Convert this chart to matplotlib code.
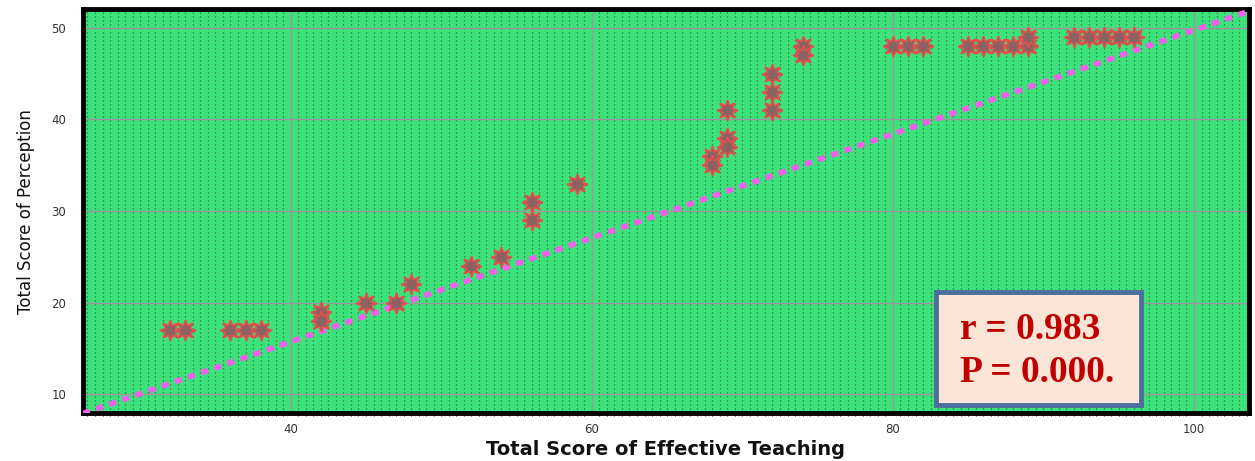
import numpy as np
import matplotlib.pyplot as plt
from matplotlib.patches import Rectangle
from matplotlib.ticker import MultipleLocator

# Total score of effective teaching vs total score of perception
teaching = [32, 33, 36, 37, 38, 42, 42, 45, 47, 48, 52, 54, 56, 56, 59,
            68, 68, 69, 69, 69, 72, 72, 72, 74, 74, 80, 81, 82,
            85, 86, 87, 88, 89, 89, 92, 93, 94, 95, 96]
perception = [17, 17, 17, 17, 17, 19, 18, 20, 20, 22, 24, 25, 31, 29, 33,
              36, 35, 38, 37, 41, 45, 43, 41, 48, 47, 48, 48, 48,
              48, 48, 48, 48, 48, 49, 49, 49, 49, 49, 49]

# fitted line
fit_intercept = -6.95
fit_slope = 0.567
stats_text = ["r = 0.983", "P = 0.000."]

fig = plt.figure(figsize=(12.55, 4.61), dpi=100)
ax = fig.add_axes([0.0661, 0.1041, 0.9291, 0.8753])
ax.set_facecolor("#3ee27a")

ax.set_xlim(26.2, 103.65)
ax.set_ylim(7.96, 52.0)
ax.xaxis.set_major_locator(MultipleLocator(20))
ax.yaxis.set_major_locator(MultipleLocator(10))
ax.xaxis.set_minor_locator(MultipleLocator(0.5))

ax.grid(which="major", color="#9a9a9a", linewidth=1.0, zorder=1)
ax.grid(which="minor", axis="x", color="#1f7a44", linewidth=0.9,
        linestyle=(0, (1.0, 2.2)), zorder=1)
ax.set_axisbelow(True)

xs = np.array(ax.get_xlim())
ax.plot(xs, fit_intercept + fit_slope * xs, color="#f55ff0", linewidth=4.0,
        linestyle=(0, (1.3, 1.2)), dash_capstyle="butt", zorder=3)

ax.plot(teaching, perception, linestyle="none", marker=(8, 1, 0),
        markersize=15, markerfacecolor="#8a6262", markeredgecolor="#e5504c",
        markeredgewidth=1.2, zorder=4)

for s in ax.spines.values():
    s.set_linewidth(3.5)
    s.set_color("black")

ax.tick_params(length=0, labelsize=8.5, labelcolor="#333333")
ax.tick_params(axis="x", pad=7)
ax.tick_params(axis="y", pad=12)

ax.set_xlabel("Total Score of Effective Teaching", fontsize=14,
              fontweight="bold", color="#111111", labelpad=3)
ax.set_ylabel("Total Score of Perception", fontsize=12,
              family="DejaVu Sans", color="#111111", labelpad=12)

ax.add_patch(Rectangle((0.7316, 0.0198), 0.1754, 0.2808, transform=ax.transAxes,
                       facecolor="#fbe5d6", edgecolor="#4a6f9c", linewidth=3.5,
                       zorder=5))
ax.text(0.752, 0.1834, stats_text[0], transform=ax.transAxes, fontsize=27,
        fontweight="bold", family="Liberation Serif", color="#c00000", zorder=6)
ax.text(0.752, 0.0776, stats_text[1], transform=ax.transAxes, fontsize=27,
        fontweight="bold", family="Liberation Serif", color="#c00000", zorder=6)

fig.savefig("out.png", dpi=100)
